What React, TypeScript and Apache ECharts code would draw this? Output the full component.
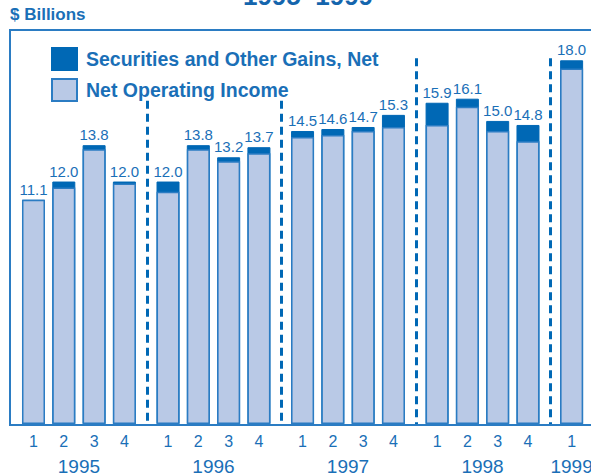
import React, { useEffect, useRef } from "react";
import * as echarts from "echarts";

const years = ["1995", "1996", "1997", "1998", "1999"];
const quarterLabels = ["1", "2", "3", "4", "1", "2", "3", "4", "1", "2", "3", "4", "1", "2", "3", "4", "1"];
const yearOfBar = [0, 0, 0, 0, 1, 1, 1, 1, 2, 2, 2, 2, 3, 3, 3, 3, 4];
const quarterOfBar = [0, 1, 2, 3, 0, 1, 2, 3, 0, 1, 2, 3, 0, 1, 2, 3, 0];
const netOperatingIncome = [11.1, 11.7, 13.6, 11.9, 11.5, 13.6, 13.0, 13.4, 14.2, 14.3, 14.5, 14.7, 14.8, 15.7, 14.5, 14.0, 17.6];
const securitiesGains = [0.0, 0.3, 0.2, 0.1, 0.5, 0.2, 0.2, 0.3, 0.3, 0.3, 0.2, 0.6, 1.1, 0.4, 0.5, 0.8, 0.4];

const YEAR_STEP = 4.44;
const BLUE_TEXT = "#1a6fb7";
const DARK = "#0068b5";
const LIGHT = "#b9c9e6";
const EDGE = "#2b7cc3";

export default function App() {
  const ref = useRef<HTMLDivElement>(null);
  useEffect(() => {
    if (!ref.current) return;
    const chart = echarts.init(ref.current, undefined, { renderer: "svg" });
    const xs = yearOfBar.map((y, i) => +(y * YEAR_STEP + quarterOfBar[i]).toFixed(4));
    const totals = netOperatingIncome.map((v, i) => +(v + securitiesGains[i]).toFixed(1));
    const yearCenters = years.map((_, y) => {
      const idx = yearOfBar.map((yy, i) => (yy === y ? i : -1)).filter((i) => i >= 0);
      const a = xs[idx[0]];
      const b = xs[idx[idx.length - 1]];
      return +((a + b) / 2).toFixed(4);
    });
    const separators = [1, 2, 3, 4].map((y) => +(y * YEAR_STEP - 0.7).toFixed(4));
    const separatorTops = [16.0, 16.0, 18.1, 18.1];

    const lab = (arr: number[], labels: string[]) => (v: number) => {
      const i = arr.findIndex((p) => Math.abs(p - v) < 1e-3);
      return i >= 0 ? labels[i] : "";
    };

    chart.setOption({
      animation: false,
      textStyle: { fontFamily: "Liberation Sans, Arial, sans-serif" },
      grid: { left: 10, top: 30, width: 600, height: 394, containLabel: false, outerBoundsMode: "none" },
      legend: {
        orient: "vertical",
        left: 46,
        top: 42,
        itemWidth: 25,
        itemHeight: 22,
        itemGap: 7,
        icon: "rect",
        data: ["Securities and Other Gains, Net", "Net Operating Income"],
        textStyle: { color: BLUE_TEXT, fontSize: 19.5, fontWeight: "bold", fontFamily: "Liberation Sans, Arial, sans-serif", padding: [0, 0, 0, 4] },
      },
      xAxis: [
        {
          type: "value",
          min: -0.7756,
          max: 19.027,
          position: "bottom",
          splitLine: { show: false },
          axisLine: { show: false },
          axisTick: { show: false },
          axisLabel: {
            customValues: xs,
            formatter: lab(xs, quarterLabels),
            color: BLUE_TEXT,
            fontSize: 16,
            margin: 9,
            hideOverlap: false,
          },
        },
        {
          type: "value",
          min: -0.7756,
          max: 19.027,
          position: "bottom",
          splitLine: { show: false },
          axisLine: { show: false },
          axisTick: { show: false },
          axisLabel: {
            customValues: yearCenters,
            formatter: lab(yearCenters, years),
            color: BLUE_TEXT,
            fontSize: 19,
            margin: 33,
            hideOverlap: false,
          },
        },
      ],
      yAxis: { type: "value", min: 0, max: 19.5, show: false, splitLine: { show: false } },
      series: [
        {
          name: "Securities and Other Gains, Net",
          type: "bar",
          barWidth: 23,
          barGap: "-100%",
          data: xs.map((x, i) => [x, totals[i]]),
          itemStyle: { color: DARK, borderColor: DARK, borderWidth: 1 },
          label: {
            show: true,
            position: "top",
            distance: 3,
            color: BLUE_TEXT,
            fontSize: 15,
            formatter: (p: any) => totals[p.dataIndex].toFixed(1),
          },
          markLine: {
            silent: true,
            symbol: "none",
            label: { show: false },
            lineStyle: { color: DARK, width: 3, type: [8, 5] },
            data: separators.map((s, i) => [
              { coord: [s, separatorTops[i]] },
              { coord: [s, 0] },
            ]),
          },
        },
        {
          name: "Net Operating Income",
          type: "bar",
          barWidth: 23,
          barGap: "-100%",
          data: xs.map((x, i) => [x, netOperatingIncome[i]]),
          itemStyle: { color: LIGHT, borderColor: EDGE, borderWidth: 1.5 },
        },
      ],
      graphic: [
        {
          type: "rect",
          shape: { x: 10, y: 30, width: 640, height: 395 },
          style: { fill: "none", stroke: EDGE, lineWidth: 2 },
          silent: true,
          z: 10,
        },
        {
          type: "text",
          left: 10,
          top: 6,
          style: { text: "$ Billions", fill: BLUE_TEXT, font: "bold 17px 'Liberation Sans', Arial, sans-serif" },
        },
        {
          type: "text",
          x: 308,
          y: -4,
          style: {
            text: "1995–1999",
            fill: "#1465ad",
            font: "bold 26px 'Liberation Sans', Arial, sans-serif",
            align: "center",
            verticalAlign: "middle",
          },
        },
      ],
    });
    return () => chart.dispose();
  }, []);
  return <div ref={ref} style={{ width: 591, height: 473, position: "absolute", left: 0, top: 0 }} />;
}
